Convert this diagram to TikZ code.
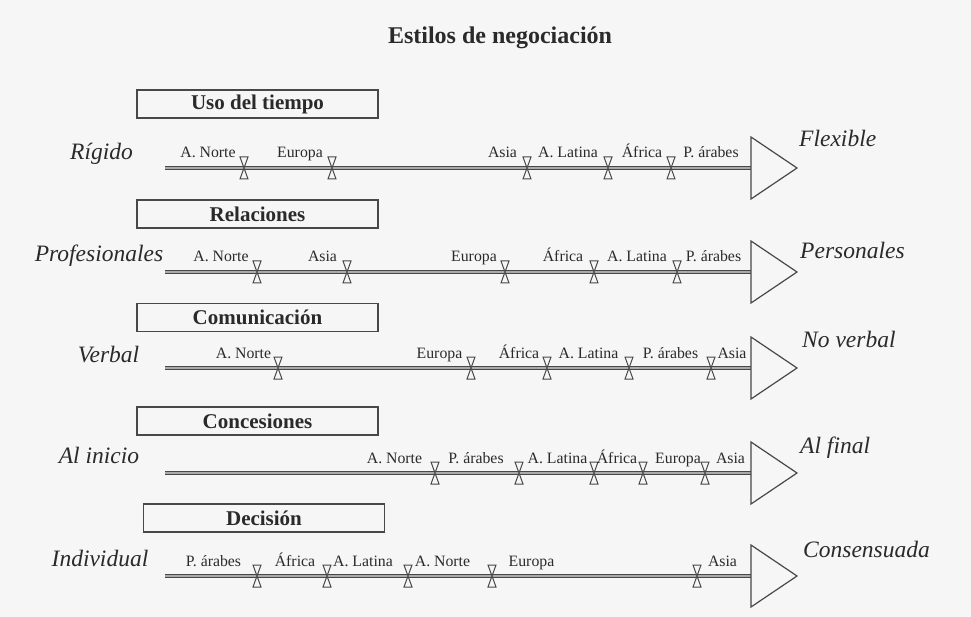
\documentclass[tikz,border=0pt]{standalone}
\usepackage{fontspec}
\setmainfont{Liberation Serif}
\usetikzlibrary{positioning}
\definecolor{tinta}{HTML}{2A2A2A}
\definecolor{linea}{HTML}{484848}
\definecolor{relleno}{HTML}{AAAAAA}
\definecolor{fondo}{HTML}{F6F6F6}

\begin{document}
\begin{tikzpicture}[
  x=1pt, y=-1pt,
  titulo/.style={font=\fontsize{24}{28}\selectfont\bfseries, text=tinta, anchor=base},
  caja/.style={rectangle, draw=linea, line width=1.1pt, minimum width=241pt, minimum height=28pt, inner sep=0pt, font=\fontsize{21}{24}\selectfont\bfseries, text=tinta},
  polo/.style={font=\fontsize{23.5}{26}\selectfont\itshape, text=tinta, inner sep=0pt},
  pais/.style={font=\fontsize{15.8}{18}\selectfont, text=tinta, inner sep=0pt, anchor=base},
  eje/.style={draw=linea, line width=0.9pt, double=relleno, double distance=1.5pt},
  punta/.style={draw=linea, line width=1.2pt, fill=fondo, line join=miter},
  reloj/.pic={\draw[draw=linea, line width=1pt, fill=fondo] (-4,-11) -- (4,-11) -- (-4,11) -- (4,11) -- cycle;}
]
  \fill[fondo] (0,0) rectangle (971,617);
  \useasboundingbox (0,0) rectangle (971,617);

  % Título
  \node[titulo] (titulo) at (500,44) {Estilos de negociación};

  % Uso del tiempo
  \node[caja] (uso) at (257.5,104) {Uso del tiempo};
  \node[polo, anchor=base] (rigido) at (101.5,160) {Rígido};
  \node[polo, anchor=base west] (flexible) at (799,147) {Flexible};
  \coordinate (uso-a) at (165,168);
  \coordinate (uso-b) at (751,168);
  \draw[eje] (uso-a) -- (uso-b);
  \draw[punta] (uso-b) ++(0,-31) -- ++(46,31) -- ++(-46,31) -- cycle;
  \foreach \x in {244,332,527,608,671} \pic at (\x,168) {reloj};
  \foreach \x/\t [count=\i] in {208/A. Norte, 300/Europa, 502.5/Asia, 568/A. Latina, 642/África, 711/P. árabes}
    \node[pais] (uso-\i) at (\x,158) {\t};

  % Relaciones
  \node[caja] (rel) at (257.5,214) {Relaciones};
  \node[polo, anchor=base] (profesionales) at (99,262) {Profesionales};
  \node[polo, anchor=base west] (personales) at (800,259) {Personales};
  \coordinate (rel-a) at (165,272);
  \coordinate (rel-b) at (751,272);
  \draw[eje] (rel-a) -- (rel-b);
  \draw[punta] (rel-b) ++(0,-31) -- ++(46,31) -- ++(-46,31) -- cycle;
  \foreach \x in {257,347,505,594,677} \pic at (\x,272) {reloj};
  \foreach \x/\t [count=\i] in {221/A. Norte, 322.5/Asia, 474/Europa, 563/África, 637/A. Latina, 713.5/P. árabes}
    \node[pais] (rel-\i) at (\x,262) {\t};

  % Comunicación
  \node[caja] (com) at (257.5,317.5) {Comunicación};
  \node[polo, anchor=base] (verbal) at (108.5,362) {Verbal};
  \node[polo, anchor=base west] (noverbal) at (802,348) {No verbal};
  \coordinate (com-a) at (165,368);
  \coordinate (com-b) at (751,368);
  \draw[eje] (com-a) -- (com-b);
  \draw[punta] (com-b) ++(0,-31) -- ++(46,31) -- ++(-46,31) -- cycle;
  \foreach \x in {278,471,547,629,711} \pic at (\x,368) {reloj};
  \foreach \x/\t [count=\i] in {243.5/A. Norte, 439.5/Europa, 519/África, 588.5/A. Latina, 670.5/P. árabes, 732/Asia}
    \node[pais] (com-\i) at (\x,358) {\t};

  % Concesiones
  \node[caja] (con) at (257.5,421) {Concesiones};
  \node[polo, anchor=base] (alinicio) at (99,463) {Al inicio};
  \node[polo, anchor=base west] (alfinal) at (800,453) {Al final};
  \coordinate (con-a) at (165,473);
  \coordinate (con-b) at (751,473);
  \draw[eje] (con-a) -- (con-b);
  \draw[punta] (con-b) ++(0,-31) -- ++(46,31) -- ++(-46,31) -- cycle;
  \foreach \x in {435,519,594,643,705} \pic at (\x,473) {reloj};
  \foreach \x/\t [count=\i] in {394.5/A. Norte, 476/P. árabes, 557.5/A. Latina, 617/África, 678/Europa, 730.5/Asia}
    \node[pais] (con-\i) at (\x,463) {\t};

  % Decisión
  \node[caja] (dec) at (264,518) {Decisión};
  \node[polo, anchor=base] (individual) at (100,566) {Individual};
  \node[polo, anchor=base west] (consensuada) at (803,557) {Consensuada};
  \coordinate (dec-a) at (165,576);
  \coordinate (dec-b) at (751,576);
  \draw[eje] (dec-a) -- (dec-b);
  \draw[punta] (dec-b) ++(0,-31) -- ++(46,31) -- ++(-46,31) -- cycle;
  \foreach \x in {257,327,408,492,697} \pic at (\x,576) {reloj};
  \foreach \x/\t [count=\i] in {213.5/P. árabes, 295/África, 363/A. Latina, 442.5/A. Norte, 531.5/Europa, 722.5/Asia}
    \node[pais] (dec-\i) at (\x,566) {\t};
\end{tikzpicture}
\end{document}
